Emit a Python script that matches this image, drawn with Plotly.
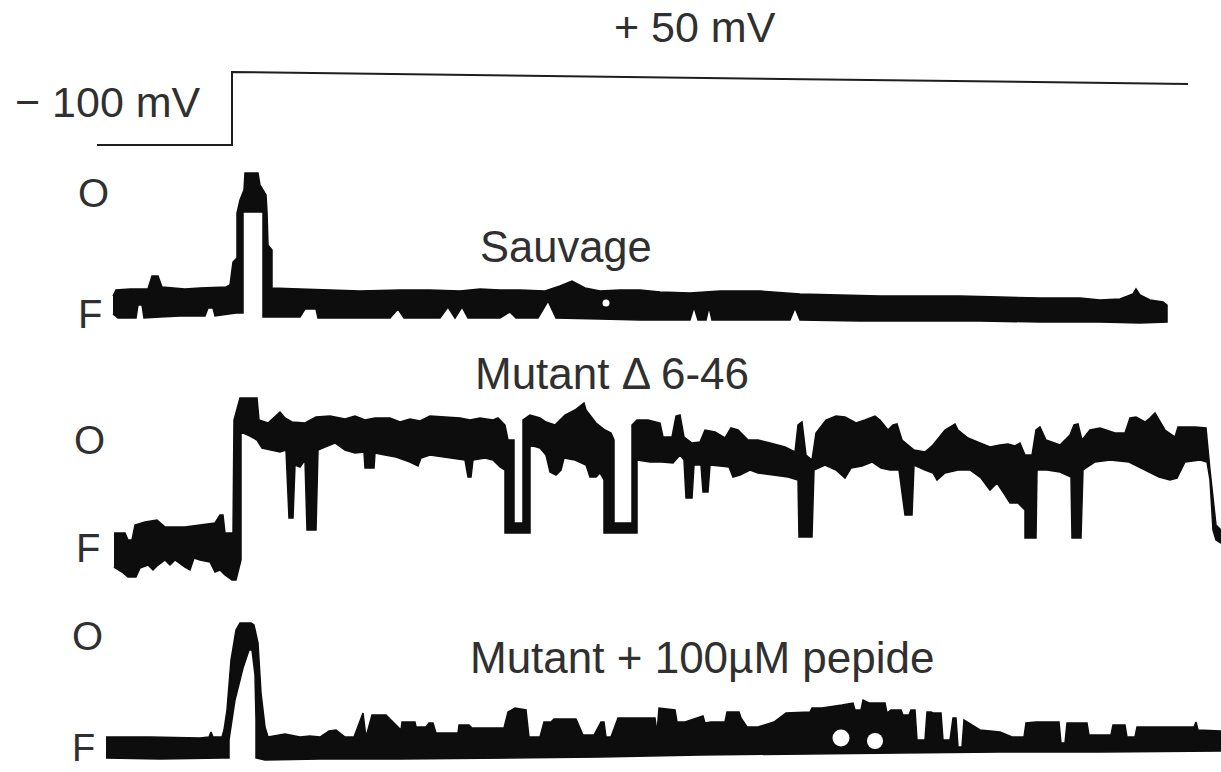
import plotly.graph_objects as go

# ---------------- data (time axis / current axis in picture units) -------------
# voltage protocol
volt_t = [97, 232, 232, 610, 1188]
volt_v = [145, 145, 72, 77, 84]

# Trace 1 : Sauvage  -- upper and lower envelope of the recorded band, (t, i) pairs
t1_top = [(113, 296), (116, 290), (130, 289), (148, 289), (152, 276), (158, 276), (162, 287), (185, 289), (200, 288),
          (226, 287), (230, 285), (233, 262), (237, 258), (237, 213), (240, 200), (244, 190), (245, 173), (258, 173),
          (260, 185), (266, 195), (267, 212), (268, 245), (272, 250), (272, 288), (300, 289), (330, 290), (360, 291),
          (400, 290), (430, 290), (460, 291), (480, 289), (500, 290), (520, 290), (545, 291), (560, 286), (572, 281),
          (585, 288), (600, 291), (620, 290), (640, 290), (660, 292), (690, 293), (720, 291), (760, 291), (800, 294),
          (840, 295), (880, 296), (920, 296), (960, 296), (1000, 297), (1040, 298), (1080, 298), (1100, 300),
          (1120, 299), (1133, 294), (1136, 289), (1140, 295), (1150, 300), (1163, 302), (1167, 305)]
t1_bot = [(113, 314), (118, 318), (130, 318), (136, 318), (138, 305), (142, 305), (144, 318), (160, 317), (180, 316),
          (195, 316), (205, 316), (208, 308), (213, 308), (215, 316), (236, 313), (243, 313), (243, 212), (263, 212),
          (263, 317), (300, 317), (305, 309), (316, 309), (318, 318), (360, 318), (390, 318), (398, 309), (404, 318),
          (440, 318), (448, 307), (455, 318), (462, 307), (468, 318), (500, 318), (510, 312), (516, 318), (538, 318),
          (548, 301), (556, 318), (600, 319), (640, 320), (690, 320), (694, 307), (698, 320), (706, 320), (709, 307),
          (712, 320), (760, 320), (790, 320), (795, 308), (800, 320), (860, 321), (920, 321), (980, 321), (1040, 322),
          (1100, 322), (1140, 323), (1167, 322)]

# Trace 2 : Mutant delta 6-46
t2_top = [(114, 533), (125, 533), (128, 540), (132, 540), (135, 525), (145, 522), (157, 520), (165, 527), (185, 527),
          (200, 525), (215, 523), (220, 515), (223, 515), (225, 533), (233, 533), (234, 420), (238, 405), (240, 398),
          (257, 398), (259, 420), (268, 423), (275, 416), (280, 412), (285, 418), (292, 422), (305, 423), (316, 417),
          (330, 416), (345, 419), (355, 416), (365, 420), (375, 418), (390, 418), (400, 422), (410, 419), (420, 421),
          (430, 416), (445, 417), (460, 418), (470, 420), (480, 418), (493, 420), (498, 418), (505, 425), (508, 440),
          (514, 440), (514, 523), (523, 523), (523, 420), (530, 415), (540, 418), (546, 422), (555, 425), (565, 415),
          (575, 410), (584, 403), (586, 410), (596, 423), (605, 430), (611, 433), (614, 440), (614, 523), (632, 523),
          (632, 425), (637, 420), (648, 420), (660, 423), (663, 437), (672, 437), (676, 416), (680, 415), (684, 437),
          (692, 443), (700, 442), (705, 430), (715, 432), (725, 438), (731, 428), (738, 430), (748, 440), (758, 440),
          (770, 443), (785, 447), (795, 452), (798, 425), (802, 422), (806, 455), (812, 460), (816, 433), (826, 420),
          (836, 416), (845, 417), (851, 420), (856, 423), (865, 420), (875, 416), (880, 420), (888, 430), (893, 425),
          (897, 424), (902, 440), (914, 450), (925, 452), (933, 445), (945, 430), (955, 424), (958, 430), (968, 438),
          (980, 443), (990, 447), (1000, 445), (1008, 444), (1015, 446), (1020, 443), (1025, 455), (1032, 455),
          (1036, 430), (1040, 427), (1046, 440), (1060, 445), (1070, 435), (1074, 425), (1078, 424), (1082, 440),
          (1090, 430), (1100, 428), (1115, 433), (1125, 433), (1130, 418), (1136, 417), (1145, 422), (1150, 418),
          (1155, 413), (1159, 420), (1165, 430), (1175, 437), (1178, 427), (1195, 427), (1206, 428), (1210, 470),
          (1213, 500), (1216, 525), (1221, 530)]
t2_bot = [(114, 567), (122, 572), (128, 577), (136, 577), (140, 568), (148, 565), (153, 570), (157, 566), (165, 560),
          (170, 565), (175, 560), (185, 567), (190, 570), (194, 558), (200, 560), (210, 562), (215, 572), (220, 570),
          (225, 575), (232, 580), (236, 580), (241, 560), (241, 432), (250, 436), (257, 440), (262, 448), (270, 450),
          (280, 452), (286, 450), (289, 518), (293, 518), (295, 465), (300, 467), (305, 460), (307, 530), (316, 530),
          (318, 450), (325, 447), (335, 443), (345, 450), (355, 453), (364, 452), (365, 468), (374, 468), (375, 453),
          (385, 455), (396, 457), (410, 462), (418, 466), (421, 458), (430, 455), (450, 458), (465, 460), (468, 477),
          (471, 477), (473, 460), (485, 458), (493, 460), (500, 467), (505, 470), (505, 533), (530, 533), (530, 445),
          (540, 448), (546, 455), (550, 472), (556, 475), (561, 470), (564, 458), (575, 460), (586, 465), (590, 477),
          (596, 477), (600, 473), (604, 480), (604, 533), (637, 533), (637, 460), (650, 462), (662, 462), (673, 463),
          (680, 455), (684, 460), (686, 498), (692, 498), (694, 465), (701, 465), (703, 492), (708, 492), (710, 465),
          (720, 466), (729, 467), (733, 477), (740, 475), (750, 470), (758, 473), (770, 475), (788, 477), (798, 480),
          (799, 537), (812, 537), (814, 470), (825, 465), (836, 470), (845, 478), (851, 468), (862, 466), (872, 462),
          (881, 468), (890, 470), (899, 470), (905, 515), (912, 515), (914, 465), (925, 470), (933, 473), (937, 480),
          (945, 473), (958, 470), (970, 470), (981, 478), (990, 490), (997, 483), (1005, 495), (1010, 503), (1018, 503),
          (1025, 510), (1025, 538), (1036, 538), (1037, 470), (1047, 470), (1060, 472), (1071, 477), (1072, 538),
          (1081, 538), (1083, 470), (1095, 462), (1110, 460), (1129, 462), (1136, 465), (1145, 470), (1159, 477),
          (1170, 480), (1177, 478), (1185, 462), (1200, 460), (1207, 462), (1210, 480), (1213, 530), (1216, 540),
          (1221, 543)]

# Trace 3 : Mutant + 100 uM peptide
t3_top = [(106, 737), (150, 737), (200, 738), (209, 737), (211, 732), (213, 737), (222, 737), (224, 730), (227, 710),
          (231, 660), (236, 630), (240, 623), (251, 623), (254, 625), (258, 643), (261, 693), (263, 710), (265, 727),
          (268, 737), (285, 734), (300, 737), (310, 736), (320, 737), (329, 731), (336, 730), (345, 737), (354, 737),
          (363, 713), (366, 737), (372, 715), (386, 715), (401, 730), (402, 722), (415, 722), (416, 727), (426, 727),
          (429, 723), (433, 723), (436, 733), (440, 733), (458, 733), (459, 725), (469, 725), (472, 728), (504, 728),
          (508, 712), (515, 708), (526, 710), (529, 737), (540, 737), (544, 722), (551, 722), (554, 719), (576, 719),
          (583, 735), (594, 735), (601, 722), (604, 722), (606, 737), (611, 737), (618, 718), (655, 718), (657, 733),
          (659, 708), (675, 710), (677, 722), (685, 722), (703, 716), (705, 723), (711, 722), (725, 722), (727, 712),
          (739, 712), (741, 718), (747, 727), (758, 727), (774, 722), (786, 713), (810, 712), (812, 708), (822, 708),
          (842, 705), (853, 703), (855, 710), (861, 710), (863, 700), (869, 703), (885, 703), (887, 713), (891, 710),
          (901, 710), (903, 715), (909, 715), (911, 710), (915, 710), (917, 740), (925, 740), (927, 712), (931, 712),
          (933, 713), (941, 713), (943, 740), (950, 740), (953, 718), (956, 718), (958, 747), (962, 747), (964, 720),
          (980, 730), (1000, 732), (1012, 737), (1024, 737), (1026, 723), (1036, 722), (1059, 722), (1061, 743),
          (1065, 743), (1067, 723), (1087, 723), (1089, 735), (1111, 735), (1113, 725), (1125, 725), (1127, 737),
          (1135, 737), (1137, 727), (1194, 727), (1196, 722), (1198, 730), (1221, 731)]
t3_bot = [(106, 758), (160, 759), (222, 758), (229, 758), (229, 740), (235, 700), (243, 668), (249, 650), (252, 650),
          (255, 675), (256, 720), (256, 758), (265, 760), (320, 759), (400, 759), (500, 758), (600, 757), (700, 755),
          (800, 754), (900, 753), (1000, 752), (1100, 752), (1221, 751)]

# small white gaps inside the bands
hole_x = [606, 841, 875]
hole_y = [303, 738, 741]
hole_size = [7, 17, 16]

# text labels
title_top = "+ 50 mV"
title_hold = "\u2212 100 mV"
trace_names = ["Sauvage", "Mutant \u0394 6-46", "Mutant + 100\u00b5M pepide"]
state_labels = ["O", "F", "O", "F", "O", "F"]

# ---------------- figure -------------
INK = "#0d0d0d"
TXT = "#303030"
fig = go.Figure()

fig.add_trace(go.Scatter(x=volt_t, y=volt_v, mode="lines",
                         line=dict(color="#1e1e1e", width=2), hoverinfo="skip"))

for top, bot in [(t1_top, t1_bot), (t2_top, t2_bot), (t3_top, t3_bot)]:
    poly = list(top) + list(bot)[::-1]
    fig.add_trace(go.Scatter(x=[p[0] for p in poly], y=[p[1] for p in poly],
                             mode="lines", fill="toself",
                             fillcolor=INK, line=dict(color=INK, width=1.5),
                             hoverinfo="skip"))

fig.add_trace(go.Scatter(x=hole_x, y=hole_y, mode="markers",
                         marker=dict(color="#ffffff", size=hole_size, opacity=1, line=dict(width=0)),
                         hoverinfo="skip"))

FONT = "Liberation Sans, Arial, sans-serif"
def label(txt, x, y, anchor="center", size=43, yanchor="middle"):
    fig.add_annotation(x=x, y=y, text=txt, showarrow=False, xanchor=anchor, yanchor=yanchor,
                       font=dict(family=FONT, size=size, color=TXT))

label(title_top, 695, 27)
label(title_hold, 108, 102)
label(trace_names[0], 566, 247, size=43.5)
label(trace_names[1], 612, 373, size=44)
label(trace_names[2], 702, 657, size=44)

state_pos = [(76, 193), (76, 314), (72, 440), (74, 548), (70, 636)]
for s, (x, y) in zip(state_labels[:5], state_pos):
    label(s, x, y, anchor="left", size=40)
# last "F" sits at the very bottom edge
label(state_labels[5], 70, 771, anchor="left", size=38, yanchor="bottom")

fig.update_layout(width=1221, height=772, margin=dict(l=0, r=0, t=0, b=0),
                  paper_bgcolor="white", plot_bgcolor="white", showlegend=False,
                  xaxis=dict(range=[0, 1221], visible=False, fixedrange=True),
                  yaxis=dict(range=[772, 0], visible=False, fixedrange=True))

fig.write_html("out.html")
